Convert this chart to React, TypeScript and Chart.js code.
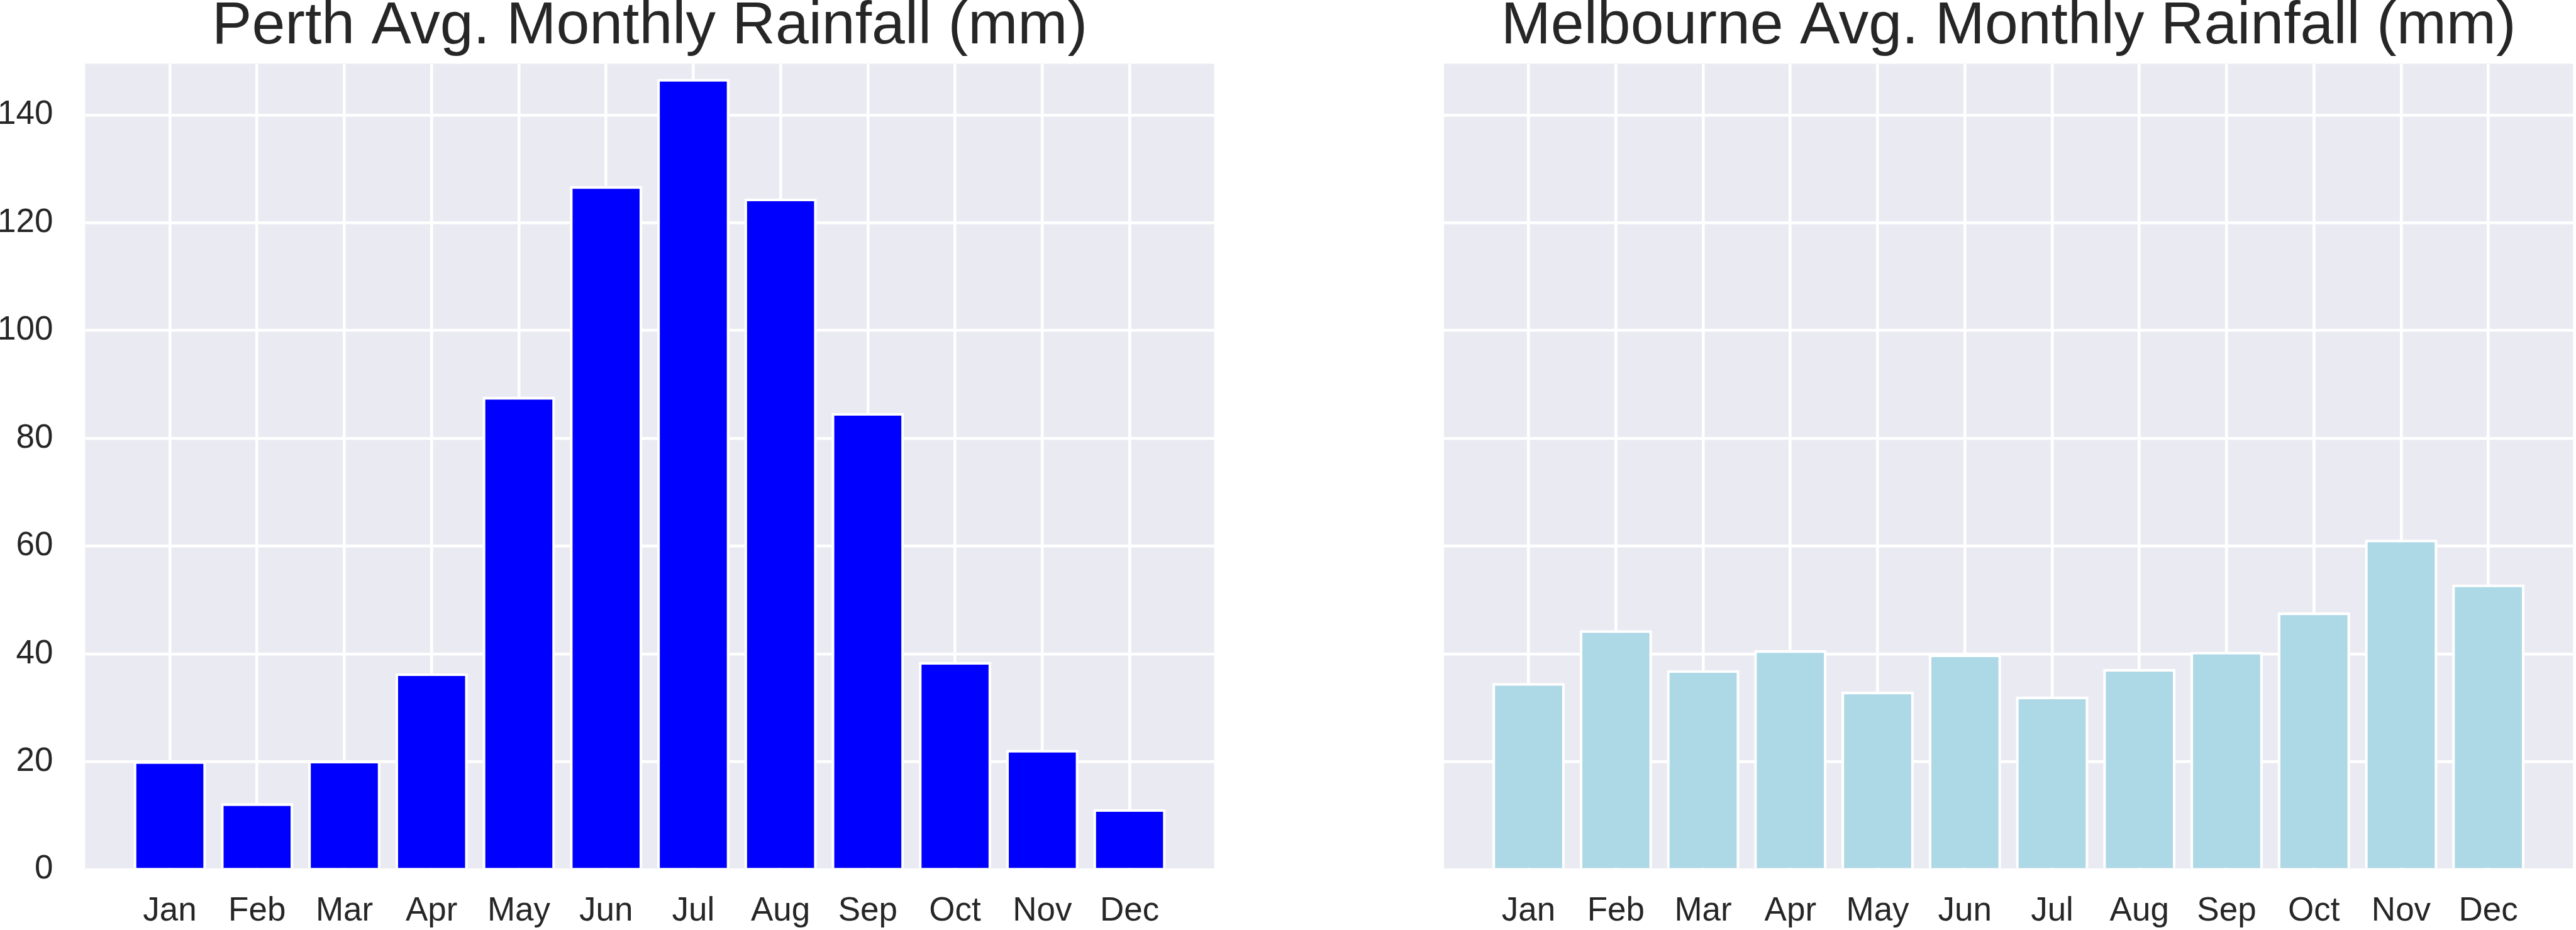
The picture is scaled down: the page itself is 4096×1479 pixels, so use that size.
import React, { useEffect, useRef } from "react";
import { Chart, registerables } from "chart.js";

Chart.register(...registerables);

// ---------- data ----------
const MONTHS = ["Jan", "Feb", "Mar", "Apr", "May", "Jun", "Jul", "Aug", "Sep", "Oct", "Nov", "Dec"];
const PERTH_RAIN = [20.1, 12.3, 20.2, 36.4, 87.7, 126.8, 146.7, 124.5, 84.7, 38.5, 22.2, 11.2];
const MELBOURNE_RAIN = [34.6, 44.4, 37.0, 40.7, 33.0, 39.9, 32.1, 37.2, 40.4, 47.7, 61.2, 52.9];
const Y_TICKS = [0, 20, 40, 60, 80, 100, 120, 140];
const Y_MIN = 0;
const Y_MAX = 149.5;
const X_MIN = -0.97;
const X_MAX = 11.97;
const PERTH_TITLE = "Perth Avg. Monthly Rainfall (mm)";
const MELBOURNE_TITLE = "Melbourne Avg. Monthly Rainfall (mm)";

// ---------- style ----------
const FONT = '"Liberation Sans", Arial, Helvetica, sans-serif';
const TEXT = "#262626";
const PANEL_BG = "#EAEAF2";
const GRID = "#FFFFFF";
const W = 4096;
const H = 1479;
const HALF = 2048;

type PanelProps = {
  title: string;
  values: number[];
  color: string;
  showYLabels: boolean;
  yAxisWidth: number;
  padRight: number;
};

function Panel({ title, values, color, showYLabels, yAxisWidth, padRight }: PanelProps) {
  const ref = useRef<HTMLCanvasElement | null>(null);

  useEffect(() => {
    if (!ref.current) return;
    const deco = {
      id: "panelDeco",
      beforeDraw(chart: any) {
        const { ctx, chartArea } = chart;
        ctx.save();
        ctx.fillStyle = PANEL_BG;
        ctx.fillRect(chartArea.left, chartArea.top, chartArea.right - chartArea.left, chartArea.bottom - chartArea.top);
        ctx.restore();
      },
      afterDraw(chart: any) {
        const { ctx, chartArea } = chart;
        ctx.save();
        ctx.fillStyle = TEXT;
        ctx.font = `95px ${FONT}`;
        ctx.textAlign = "center";
        ctx.textBaseline = "alphabetic";
        ctx.fillText(title, (chartArea.left + chartArea.right) / 2, 69);
        ctx.restore();
      },
    };

    const chart = new Chart(ref.current, {
      type: "bar",
      data: {
        datasets: [
          {
            data: values.map((v, i) => ({ x: i, y: v })),
            backgroundColor: color,
            borderColor: "#FFFFFF",
            borderWidth: 4.3,
            barPercentage: 0.83,
            categoryPercentage: 1,
          },
        ],
      },
      options: {
        responsive: false,
        animation: false,
        devicePixelRatio: 1,
        layout: { padding: { left: 0, right: padRight, top: 101.4, bottom: 0 } },
        plugins: {
          legend: { display: false },
          tooltip: { enabled: false },
          title: { display: false },
        },
        scales: {
          x: {
            type: "linear",
            min: X_MIN,
            max: X_MAX,
            offset: false,
            afterBuildTicks: (s: any) => {
              s.ticks = MONTHS.map((_, i) => ({ value: i }));
            },
            afterFit: (s: any) => {
              s.height = 96.2;
            },
            ticks: {
              autoSkip: false,
              maxRotation: 0,
              minRotation: 0,
              padding: 35,
              color: TEXT,
              font: { family: FONT, size: 53 },
              callback: (v: any) => MONTHS[Math.round(Number(v))] ?? "",
            },
            grid: { color: GRID, lineWidth: 4.6, drawTicks: false, offset: false },
            border: { display: false },
          },
          y: {
            type: "linear",
            min: Y_MIN,
            max: Y_MAX,
            afterBuildTicks: (s: any) => {
              s.ticks = Y_TICKS.map((v) => ({ value: v }));
            },
            afterFit: (s: any) => {
              s.width = yAxisWidth;
            },
            ticks: {
              display: showYLabels,
              padding: 51,
              color: TEXT,
              font: { family: FONT, size: 53 },
              callback: (v: any) => String(v),
            },
            grid: { color: GRID, lineWidth: 4.5, drawTicks: false },
            border: { display: false },
          },
        },
      },
      plugins: [deco],
    } as any);

    return () => chart.destroy();
  }, [title, values, color, showYLabels, yAxisWidth, padRight]);

  return <canvas ref={ref} width={HALF} height={H} style={{ width: HALF, height: H, display: "block" }} />;
}

export default function App() {
  return (
    <div
      style={{
        position: "fixed",
        left: 0,
        top: 0,
        width: W,
        height: H,
        background: "#FFFFFF",
        display: "flex",
        flexDirection: "row",
      }}
    >
      <Panel title={PERTH_TITLE} values={PERTH_RAIN} color="#0000FF" showYLabels={true} yAxisWidth={135.5} padRight={117.4} />
      <Panel title={MELBOURNE_TITLE} values={MELBOURNE_RAIN} color="#ADD8E6" showYLabels={false} yAxisWidth={248} padRight={4.7} />
    </div>
  );
}
